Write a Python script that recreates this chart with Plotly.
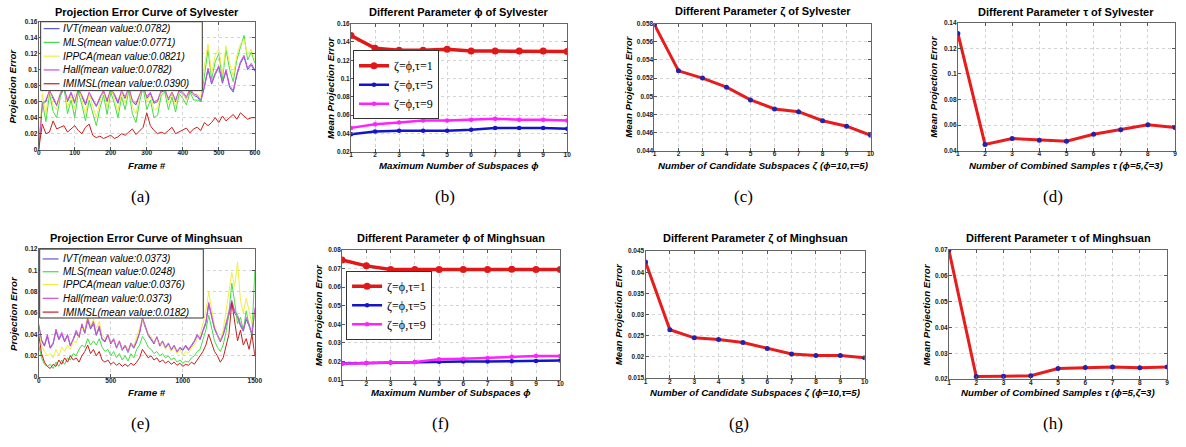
import plotly.graph_objects as go

W, H = 1186, 447

# ---------------- data ----------------
methods = ["IVT", "MLS", "IPPCA", "Hall", "IMIMSL"]
means_sylvester = ["0.0782", "0.0771", "0.0821", "0.0782", "0.0390"]
means_minghsuan = ["0.0373", "0.0248", "0.0376", "0.0373", "0.0182"]

frames_a = list(range(0, 601, 10))
ivt_a = [0.000, 0.056, 0.060, 0.072, 0.064, 0.055, 0.068, 0.076, 0.060, 0.070,
         0.058, 0.074, 0.066, 0.056, 0.070, 0.062, 0.054, 0.064, 0.072, 0.060,
         0.074, 0.068, 0.058, 0.072, 0.064, 0.076, 0.060, 0.056, 0.068, 0.078,
         0.064, 0.070, 0.058, 0.060, 0.072, 0.074, 0.062, 0.070, 0.060, 0.073,
         0.070, 0.064, 0.074, 0.068, 0.066, 0.060, 0.078, 0.100, 0.082, 0.094,
         0.103, 0.083, 0.098, 0.078, 0.072, 0.093, 0.108, 0.116, 0.100, 0.106, 0.098]
mls_a = [0.000, 0.060, 0.035, 0.070, 0.048, 0.040, 0.066, 0.080, 0.045, 0.062,
         0.040, 0.072, 0.056, 0.036, 0.062, 0.045, 0.030, 0.052, 0.068, 0.044,
         0.072, 0.058, 0.040, 0.066, 0.050, 0.074, 0.045, 0.034, 0.060, 0.078,
         0.050, 0.062, 0.040, 0.043, 0.068, 0.072, 0.050, 0.066, 0.047, 0.070,
         0.064, 0.056, 0.072, 0.062, 0.062, 0.060, 0.095, 0.125, 0.088, 0.110,
         0.120, 0.088, 0.125, 0.100, 0.085, 0.112, 0.128, 0.143, 0.112, 0.122, 0.108]
ippca_a = [0.000, 0.070, 0.045, 0.078, 0.055, 0.050, 0.072, 0.085, 0.052, 0.068,
           0.050, 0.080, 0.062, 0.045, 0.070, 0.055, 0.040, 0.060, 0.075, 0.052,
           0.078, 0.064, 0.048, 0.072, 0.058, 0.080, 0.054, 0.045, 0.066, 0.082,
           0.060, 0.068, 0.050, 0.052, 0.075, 0.078, 0.058, 0.072, 0.055, 0.076,
           0.070, 0.062, 0.078, 0.068, 0.070, 0.066, 0.105, 0.132, 0.095, 0.118,
           0.126, 0.095, 0.130, 0.108, 0.092, 0.118, 0.132, 0.138, 0.118, 0.126, 0.112]
hall_a = [0.000, 0.058, 0.062, 0.074, 0.066, 0.056, 0.070, 0.078, 0.062, 0.072,
          0.060, 0.076, 0.068, 0.058, 0.072, 0.064, 0.055, 0.066, 0.074, 0.062,
          0.076, 0.070, 0.060, 0.074, 0.066, 0.078, 0.062, 0.058, 0.070, 0.080,
          0.066, 0.072, 0.060, 0.062, 0.074, 0.076, 0.064, 0.072, 0.062, 0.075,
          0.072, 0.066, 0.076, 0.070, 0.068, 0.062, 0.080, 0.102, 0.084, 0.096,
          0.105, 0.085, 0.100, 0.080, 0.074, 0.095, 0.110, 0.118, 0.102, 0.108, 0.100]
imimsl_a = [0.000, 0.032, 0.020, 0.022, 0.036, 0.026, 0.028, 0.030, 0.022, 0.026,
            0.030, 0.024, 0.020, 0.028, 0.032, 0.018, 0.015, 0.017, 0.014, 0.016,
            0.018, 0.014, 0.016, 0.020, 0.018, 0.022, 0.026, 0.019, 0.024, 0.028,
            0.046, 0.030, 0.024, 0.020, 0.022, 0.020, 0.024, 0.028, 0.020, 0.022,
            0.024, 0.027, 0.021, 0.026, 0.028, 0.024, 0.034, 0.030, 0.034, 0.040,
            0.034, 0.042, 0.036, 0.040, 0.044, 0.038, 0.046, 0.042, 0.038, 0.040, 0.040]

frames_e = list(range(0, 1501, 20))
ivt_e = [0.048, 0.034, 0.029, 0.038, 0.027, 0.031, 0.043, 0.035, 0.040, 0.033,
         0.039, 0.029, 0.035, 0.042, 0.037, 0.048, 0.041, 0.053, 0.045, 0.050,
         0.039, 0.046, 0.035, 0.033, 0.039, 0.031, 0.035, 0.027, 0.033, 0.025,
         0.029, 0.023, 0.031, 0.027, 0.033, 0.041, 0.054, 0.047, 0.039, 0.035,
         0.031, 0.037, 0.029, 0.033, 0.027, 0.031, 0.025, 0.029, 0.023, 0.027,
         0.025, 0.029, 0.025, 0.029, 0.033, 0.039, 0.035, 0.043, 0.050, 0.068,
         0.056, 0.045, 0.039, 0.033, 0.039, 0.048, 0.058, 0.070, 0.060, 0.056,
         0.048, 0.043, 0.054, 0.048, 0.039, 0.062]
mls_e = [0.030, 0.018, 0.012, 0.010, 0.012, 0.008, 0.014, 0.010, 0.016, 0.012,
         0.018, 0.016, 0.022, 0.020, 0.026, 0.030, 0.028, 0.036, 0.030, 0.034,
         0.030, 0.036, 0.028, 0.024, 0.026, 0.020, 0.024, 0.018, 0.022, 0.016,
         0.020, 0.015, 0.022, 0.018, 0.026, 0.030, 0.038, 0.034, 0.028, 0.026,
         0.022, 0.024, 0.020, 0.022, 0.018, 0.020, 0.016, 0.018, 0.014, 0.016,
         0.013, 0.015, 0.014, 0.018, 0.020, 0.024, 0.026, 0.034, 0.044, 0.058,
         0.046, 0.034, 0.028, 0.024, 0.030, 0.042, 0.060, 0.088, 0.070, 0.050,
         0.056, 0.044, 0.062, 0.048, 0.040, 0.100]
ippca_e = [0.045, 0.030, 0.024, 0.020, 0.022, 0.018, 0.026, 0.020, 0.028, 0.024,
           0.030, 0.026, 0.034, 0.032, 0.040, 0.046, 0.044, 0.058, 0.048, 0.054,
           0.046, 0.052, 0.040, 0.036, 0.040, 0.032, 0.036, 0.028, 0.034, 0.026,
           0.030, 0.024, 0.032, 0.028, 0.038, 0.046, 0.054, 0.048, 0.040, 0.038,
           0.032, 0.036, 0.030, 0.032, 0.026, 0.030, 0.024, 0.028, 0.022, 0.026,
           0.020, 0.024, 0.022, 0.028, 0.030, 0.036, 0.040, 0.050, 0.062, 0.080,
           0.064, 0.048, 0.040, 0.034, 0.044, 0.060, 0.080, 0.098, 0.085, 0.108,
           0.072, 0.060, 0.074, 0.062, 0.050, 0.060]
hall_e = [0.050, 0.035, 0.030, 0.040, 0.028, 0.032, 0.045, 0.036, 0.042, 0.034,
          0.040, 0.030, 0.036, 0.044, 0.038, 0.050, 0.042, 0.055, 0.046, 0.052,
          0.040, 0.048, 0.036, 0.034, 0.040, 0.032, 0.036, 0.028, 0.034, 0.026,
          0.030, 0.024, 0.032, 0.028, 0.034, 0.042, 0.056, 0.048, 0.040, 0.036,
          0.032, 0.038, 0.030, 0.034, 0.028, 0.032, 0.026, 0.030, 0.024, 0.028,
          0.026, 0.030, 0.026, 0.030, 0.034, 0.040, 0.036, 0.044, 0.052, 0.070,
          0.058, 0.046, 0.040, 0.034, 0.040, 0.050, 0.060, 0.072, 0.062, 0.058,
          0.050, 0.044, 0.056, 0.050, 0.040, 0.065]
imimsl_e = [0.040, 0.022, 0.014, 0.010, 0.008, 0.012, 0.010, 0.016, 0.012, 0.018,
            0.014, 0.020, 0.016, 0.018, 0.014, 0.020, 0.024, 0.030, 0.022, 0.026,
            0.020, 0.024, 0.016, 0.014, 0.016, 0.012, 0.014, 0.011, 0.013, 0.010,
            0.012, 0.010, 0.013, 0.011, 0.014, 0.018, 0.026, 0.022, 0.018, 0.020,
            0.016, 0.018, 0.014, 0.016, 0.013, 0.015, 0.012, 0.014, 0.011, 0.013,
            0.010, 0.012, 0.011, 0.014, 0.012, 0.016, 0.020, 0.024, 0.030, 0.040,
            0.032, 0.024, 0.020, 0.014, 0.018, 0.028, 0.040, 0.070, 0.050, 0.034,
            0.044, 0.030, 0.036, 0.026, 0.040, 0.020]

phi_vals = list(range(1, 11))
phi_tau1_syl = [0.147, 0.133, 0.131, 0.131, 0.132, 0.130, 0.130, 0.130, 0.130, 0.1295]
phi_tau5_syl = [0.039, 0.042, 0.043, 0.043, 0.043, 0.044, 0.046, 0.046, 0.046, 0.045]
phi_tau9_syl = [0.046, 0.050, 0.052, 0.054, 0.054, 0.055, 0.056, 0.055, 0.055, 0.054]
phi_tau1_min = [0.0747, 0.0715, 0.0695, 0.0695, 0.0696, 0.0695, 0.0695, 0.0697, 0.0695, 0.0695]
phi_tau5_min = [0.0189, 0.0192, 0.0194, 0.0197, 0.0199, 0.0200, 0.0200, 0.0201, 0.0203, 0.0205]
phi_tau9_min = [0.0187, 0.0192, 0.0194, 0.0197, 0.0212, 0.0215, 0.0219, 0.0226, 0.0229, 0.0229]
series_labels = ["ζ=ϕ,τ=1", "ζ=ϕ,τ=5", "ζ=ϕ,τ=9"]

zeta_vals = list(range(1, 11))
zeta_syl = [0.0579, 0.0528, 0.0520, 0.0510, 0.0496, 0.0486, 0.0483, 0.0473, 0.0467, 0.0457]
zeta_min = [0.0424, 0.0264, 0.0245, 0.0241, 0.0234, 0.0220, 0.0207, 0.0203, 0.0203, 0.0198]

tau_vals = list(range(1, 10))
tau_syl = [0.1316, 0.0449, 0.0495, 0.0482, 0.0474, 0.0528, 0.0564, 0.0602, 0.0581]
tau_min = [0.0699, 0.0210, 0.0211, 0.0213, 0.0241, 0.0245, 0.0247, 0.0244, 0.0247]

# tick labels
yt_a = [0, 0.02, 0.04, 0.06, 0.08, 0.1, 0.12, 0.14, 0.16]
yl_a = ["0", "0.02", "0.04", "0.06", "0.08", "0.1", "0.12", "0.14", "0.16"]
xt_a = [0, 100, 200, 300, 400, 500, 600]
yt_b = [0.02, 0.04, 0.06, 0.08, 0.1, 0.12, 0.14, 0.16]
yl_b = ["0.02", "0.04", "0.06", "0.08", "0.1", "0.12", "0.14", "0.16"]
yt_c = [0.044, 0.046, 0.048, 0.05, 0.052, 0.054, 0.056, 0.058]
yl_c = ["0.044", "0.046", "0.048", "0.05", "0.052", "0.054", "0.056", "0.058"]
yt_d = [0.04, 0.06, 0.08, 0.1, 0.12, 0.14]
yl_d = ["0.04", "0.06", "0.08", "0.1", "0.12", "0.14"]
yt_e = [0, 0.02, 0.04, 0.06, 0.08, 0.1, 0.12]
yl_e = ["0", "0.02", "0.04", "0.06", "0.08", "0.1", "0.12"]
xt_e = [0, 500, 1000, 1500]
yt_f = [0.01, 0.02, 0.03, 0.04, 0.05, 0.06, 0.07, 0.08]
yl_f = ["0.01", "0.02", "0.03", "0.04", "0.05", "0.06", "0.07", "0.08"]
yt_g = [0.015, 0.02, 0.025, 0.03, 0.035, 0.04, 0.045]
yl_g = ["0.015", "0.02", "0.025", "0.03", "0.035", "0.04", "0.045"]
yt_h = [0.02, 0.03, 0.04, 0.05, 0.06, 0.07]
yl_h = ["0.02", "0.03", "0.04", "0.05", "0.06", "0.07"]

# ---------------- layout helpers ----------------
SANS = "Liberation Sans"
SERIF = "Liberation Serif"
fig = go.Figure()

panels = [
    dict(n=1, box=(37, 255, 18, 148), xr=[0, 600], yr=[0, 0.16], xt=xt_a, yt=yt_a, yl=yl_a,
         title="Projection Error Curve of Sylvester", xlab="Frame #", ylab="Projection Error",
         cap="(a)", capx=140, ylx=11),
    dict(n=2, box=(352, 570, 20, 150), xr=[1, 10], yr=[0.02, 0.16], xt=phi_vals, yt=yt_b, yl=yl_b,
         title="Different Parameter ϕ of Sylvester", xlab="Maximum Number of Subspaces ϕ",
         ylab="Mean Projection Error", cap="(b)", capx=447, ylx=331),
    dict(n=3, box=(658, 876, 20, 149), xr=[1, 10], yr=[0.044, 0.058], xt=zeta_vals, yt=yt_c, yl=yl_c,
         title="Different Parameter ζ of Sylvester", xlab="Number of Candidate Subspaces ζ (ϕ=10,τ=5)",
         ylab="Mean Projection Error", cap="(c)", capx=748, ylx=631),
    dict(n=4, box=(964, 1183, 19, 149), xr=[1, 9], yr=[0.04, 0.14], xt=tau_vals, yt=yt_d, yl=yl_d,
         title="Different Parameter τ of Sylvester", xlab="Number of Combined Samples τ (ϕ=5,ζ=3)",
         ylab="Mean Projection Error", cap="(d)", capx=1060, ylx=940),
    dict(n=5, box=(37, 255, 249, 379), xr=[0, 1500], yr=[0, 0.12], xt=xt_e, yt=yt_e, yl=yl_e,
         title="Projection Error Curve of Minghsuan", xlab="Frame #", ylab="Projection Error",
         cap="(e)", capx=140, ylx=11),
    dict(n=6, box=(343, 563, 250, 382), xr=[1, 10], yr=[0.01, 0.08], xt=phi_vals, yt=yt_f, yl=yl_f,
         title="Different Parameter ϕ of Minghsuan", xlab="Maximum Number of Subspaces ϕ",
         ylab="Mean Projection Error", cap="(f)", capx=442, ylx=319),
    dict(n=7, box=(649, 870, 251, 380), xr=[1, 10], yr=[0.015, 0.045], xt=zeta_vals, yt=yt_g, yl=yl_g,
         title="Different Parameter ζ of Minghsuan", xlab="Number of Candidate Subspaces ζ (ϕ=10,τ=5)",
         ylab="Mean Projection Error", cap="(g)", capx=743, ylx=622),
    dict(n=8, box=(955, 1175, 250, 381), xr=[1, 9], yr=[0.02, 0.07], xt=tau_vals, yt=yt_h, yl=yl_h,
         title="Different Parameter τ of Minghsuan", xlab="Number of Combined Samples τ (ϕ=5,ζ=3)",
         ylab="Mean Projection Error", cap="(h)", capx=1060, ylx=932),
]

annotations = []
shapes = []
tickfont = dict(family=SANS, size=6.5, color="#222", weight="bold")
for p in panels:
    n = p["n"]
    x0, x1, y0, y1 = p["box"]
    sfx = "" if n == 1 else str(n)
    common = dict(ticks="inside", ticklen=3, tickcolor="#555", showline=True, linecolor="#666",
                  linewidth=1, mirror="ticks", showgrid=True, gridcolor="#d4d4d4", griddash="dot",
                  zeroline=False, tickfont=tickfont)
    fig.layout["xaxis" + sfx] = dict(domain=[x0 / W, x1 / W], range=p["xr"], tickvals=p["xt"],
                                    anchor="y" + sfx, ticklabelstandoff=-3, **common)
    fig.layout["yaxis" + sfx] = dict(domain=[1 - y1 / H, 1 - y0 / H], range=p["yr"], tickvals=p["yt"],
                                    ticktext=p["yl"], anchor="x" + sfx, ticklabelstandoff=-1, **common)
    cx = (x0 + x1) / 2
    cy = (y0 + y1) / 2
    top = 8 if n <= 4 else 238
    xl_y = 164 if n <= 4 else 395
    cap_y = 196 if n <= 4 else 426
    annotations.append(dict(text=p["title"], x=cx / W, y=1 - top / H, xref="paper", yref="paper",
                            showarrow=False, xanchor="center", yanchor="middle",
                            font=dict(family=SANS, size=11, color="black", weight="bold")))
    annotations.append(dict(text=p["xlab"], x=cx / W, y=1 - xl_y / H, xref="paper", yref="paper",
                            showarrow=False, xanchor="center", yanchor="middle",
                            font=dict(family=SANS, size=9.7, color="black", weight="bold", style="italic")))
    annotations.append(dict(text=p["ylab"], x=p["ylx"] / W, y=1 - cy / H, xref="paper", yref="paper",
                            showarrow=False, xanchor="center", yanchor="middle", textangle=-90,
                            font=dict(family=SANS, size=9.7, color="black", weight="bold", style="italic")))
    annotations.append(dict(text=p["cap"], x=p["capx"] / W, y=1 - cap_y / H, xref="paper", yref="paper",
                            showarrow=False, xanchor="center", yanchor="middle",
                            font=dict(family=SERIF, size=17, color="black")))

# ---------------- traces ----------------
curve_colors = ["#5a5ad2", "#44dd44", "#eeee44", "#d050d0", "#c81e1e"]
series_a = [ivt_a, mls_a, ippca_a, hall_a, imimsl_a]
series_e = [ivt_e, mls_e, ippca_e, hall_e, imimsl_e]
for name, col, ys in zip(methods, curve_colors, series_a):
    fig.add_trace(go.Scatter(x=frames_a, y=ys, mode="lines", name=name, showlegend=False,
                             line=dict(color=col, width=1), xaxis="x", yaxis="y"))
for name, col, ys in zip(methods, curve_colors, series_e):
    fig.add_trace(go.Scatter(x=frames_e, y=ys, mode="lines", name=name, showlegend=False,
                             line=dict(color=col, width=1), xaxis="x5", yaxis="y5"))

# legends for (a) and (e), drawn as a boxed key over the plot
def curve_key(box, rows, means):
    bx0, bx1, by0, by1 = box
    shapes.append(dict(type="rect", xref="paper", yref="paper", x0=bx0 / W, x1=bx1 / W,
                       y0=1 - by1 / H, y1=1 - by0 / H, fillcolor="white",
                       line=dict(color="#333", width=1), layer="above"))
    for ry, name, col, m in zip(rows, methods, curve_colors, means):
        shapes.append(dict(type="line", xref="paper", yref="paper", x0=(bx0 + 3) / W, x1=(bx0 + 19) / W,
                           y0=1 - ry / H, y1=1 - ry / H, line=dict(color=col, width=1.2), layer="above"))
        annotations.append(dict(text=f"{name}(mean value:{m})", x=(bx0 + 21) / W, y=1 - ry / H,
                                xref="paper", yref="paper", showarrow=False, xanchor="left",
                                yanchor="middle",
                                font=dict(family=SANS, size=10, color="black", style="italic")))

curve_key((39, 202, 18, 88), [25, 39, 53, 67, 81], means_sylvester)
curve_key((38, 203, 249, 319), [259, 272, 285, 299, 313], means_minghsuan)

phi_colors = ["#e01818", "#1414c8", "#ff22ff"]
phi_syl = [phi_tau1_syl, phi_tau5_syl, phi_tau9_syl]
phi_min = [phi_tau1_min, phi_tau5_min, phi_tau9_min]
for i, (lab, col) in enumerate(zip(series_labels, phi_colors)):
    lw = 3.5 if i == 0 else 2.5
    ms = 7 if i == 0 else 4.5
    fig.add_trace(go.Scatter(x=phi_vals, y=phi_syl[i], mode="lines+markers", name=lab,
                             line=dict(color=col, width=lw), marker=dict(color=col, size=ms),
                             xaxis="x2", yaxis="y2", legend="legend"))
    fig.add_trace(go.Scatter(x=phi_vals, y=phi_min[i], mode="lines+markers", name=lab,
                             line=dict(color=col, width=lw), marker=dict(color=col, size=ms),
                             xaxis="x6", yaxis="y6", legend="legend2"))

red_line = dict(color="#e81c1c", width=3)
blue_dot = dict(color="#2222aa", size=5)
fig.add_trace(go.Scatter(x=zeta_vals, y=zeta_syl, mode="lines+markers", line=red_line, marker=blue_dot,
                         showlegend=False, xaxis="x3", yaxis="y3"))
fig.add_trace(go.Scatter(x=tau_vals, y=tau_syl, mode="lines+markers", line=red_line, marker=blue_dot,
                         showlegend=False, xaxis="x4", yaxis="y4"))
fig.add_trace(go.Scatter(x=zeta_vals, y=zeta_min, mode="lines+markers", line=red_line, marker=blue_dot,
                         showlegend=False, xaxis="x7", yaxis="y7"))
fig.add_trace(go.Scatter(x=tau_vals, y=tau_min, mode="lines+markers", line=red_line, marker=blue_dot,
                         showlegend=False, xaxis="x8", yaxis="y8"))

legend_style = dict(xanchor="left", yanchor="top", bgcolor="white", bordercolor="#333", borderwidth=1,
                    font=dict(family=SERIF, size=12, color="black"), itemwidth=30, tracegroupgap=0)
fig.update_layout(
    width=W, height=H, margin=dict(l=0, r=0, t=0, b=0),
    paper_bgcolor="white", plot_bgcolor="white",
    annotations=annotations, shapes=shapes,
    legend=dict(x=354 / W, y=1 - 47 / H, **legend_style),
    legend2=dict(x=347 / W, y=1 - 271 / H, **legend_style),
)

fig.write_html("out.html", config={"displayModeBar": False},
               post_script="document.body.style.margin='0px';")
